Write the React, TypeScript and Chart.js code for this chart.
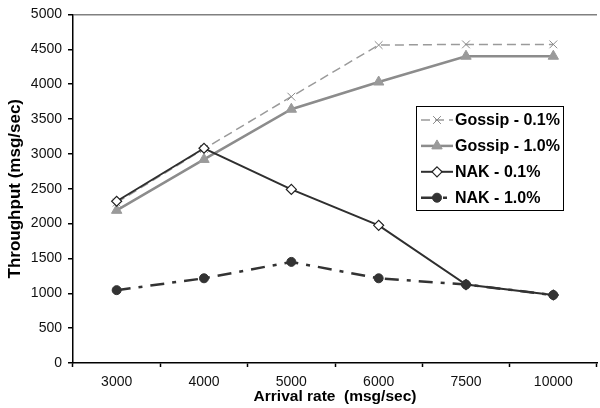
import React, { useEffect, useRef } from 'react';
import { Chart, registerables } from 'chart.js';

Chart.register(...registerables);

// ---- Data ----
const categories = ['3000', '4000', '5000', '6000', '7500', '10000'];
const seriesLabels = ['Gossip - 0.1%', 'Gossip - 1.0%', 'NAK - 0.1%', 'NAK - 1.0%'];
const gossip01 = [2300, 3070, 3820, 4560, 4570, 4570];
const gossip10 = [2190, 2920, 3640, 4030, 4400, 4400];
const nak01 = [2320, 3080, 2490, 1975, 1125, 975];
const nak10 = [1045, 1215, 1450, 1215, 1125, 975];
const yMin = 0;
const yMax = 5000;
const yStep = 500;
const xTitle = 'Arrival rate  (msg/sec)';
const yTitle = 'Throughput (msg/sec)';

const FONT = "Arial, 'Liberation Sans', Helvetica, sans-serif";

function drawMarker(ctx: CanvasRenderingContext2D, ds: any, x: number, y: number) {
  const r = ds.pointRadius;
  ctx.save();
  ctx.setLineDash([]);
  ctx.lineWidth = ds.pointBorderWidth;
  ctx.strokeStyle = ds.pointBorderColor;
  ctx.fillStyle = ds.pointBackgroundColor;
  ctx.beginPath();
  if (ds.pointStyle === 'crossRot') {
    const d = r * Math.SQRT1_2;
    ctx.moveTo(x - d, y - d); ctx.lineTo(x + d, y + d);
    ctx.moveTo(x + d, y - d); ctx.lineTo(x - d, y + d);
    ctx.stroke();
  } else if (ds.pointStyle === 'triangle') {
    for (let k = 0; k < 3; k++) {
      const a = (k * 2 * Math.PI) / 3;
      const px = x + Math.sin(a) * r;
      const py = y - Math.cos(a) * r;
      if (k === 0) ctx.moveTo(px, py); else ctx.lineTo(px, py);
    }
    ctx.closePath(); ctx.fill(); ctx.stroke();
  } else if (ds.pointStyle === 'rectRot') {
    ctx.moveTo(x, y - r); ctx.lineTo(x + r, y); ctx.lineTo(x, y + r); ctx.lineTo(x - r, y);
    ctx.closePath(); ctx.fill(); ctx.stroke();
  } else {
    ctx.arc(x, y, r, 0, Math.PI * 2);
    ctx.fill(); ctx.stroke();
  }
  ctx.restore();
}

const boxLegend = {
  id: 'boxLegend',
  afterDatasetsDraw(chart: any) {
    const ctx: CanvasRenderingContext2D = chart.ctx;
    const x0 = 416, y0 = 106, w = 147, h = 104;
    ctx.save();
    ctx.fillStyle = '#ffffff';
    ctx.fillRect(x0, y0, w, h);
    ctx.strokeStyle = '#000000';
    ctx.lineWidth = 1;
    ctx.strokeRect(x0 + 0.5, y0 + 0.5, w, h);
    chart.data.datasets.forEach((ds: any, i: number) => {
      const cy = 120 + i * 25.9;
      ctx.save();
      ctx.setLineDash(ds.borderDash || []);
      ctx.strokeStyle = ds.borderColor;
      ctx.lineWidth = ds.borderWidth;
      ctx.beginPath();
      ctx.moveTo(421, cy);
      ctx.lineTo(453, cy);
      ctx.stroke();
      ctx.restore();
      drawMarker(ctx, ds, 437, cy);
      ctx.fillStyle = '#000000';
      ctx.font = `bold 16px ${FONT}`;
      ctx.textAlign = 'left';
      ctx.textBaseline = 'middle';
      ctx.fillText(ds.label, 455, cy + 1);
    });
    ctx.restore();
  },
};

export default function App() {
  const ref = useRef<HTMLCanvasElement | null>(null);

  useEffect(() => {
    if (!ref.current) return;
    const chart = new Chart(ref.current, {
      type: 'line',
      data: {
        labels: categories,
        datasets: [
          {
            label: seriesLabels[0],
            data: gossip01,
            borderColor: '#9a9a9a',
            borderWidth: 1.5,
            borderDash: [9, 5],
            pointStyle: 'crossRot',
            pointRadius: 5.5,
            pointBorderWidth: 1,
            pointBorderColor: '#8a8a8a',
            pointBackgroundColor: '#8a8a8a',
            order: 3,
          },
          {
            label: seriesLabels[1],
            data: gossip10,
            borderColor: '#8c8c8c',
            borderWidth: 2.5,
            pointStyle: 'triangle',
            pointRadius: 6,
            pointBorderWidth: 1,
            pointBorderColor: '#9a9a9a',
            pointBackgroundColor: '#9a9a9a',
            order: 2,
          },
          {
            label: seriesLabels[2],
            data: nak01,
            borderColor: '#2f2f2f',
            borderWidth: 2,
            pointStyle: 'rectRot',
            pointRadius: 5,
            pointBorderWidth: 1.2,
            pointBorderColor: '#222222',
            pointBackgroundColor: '#ffffff',
            order: 1,
          },
          {
            label: seriesLabels[3],
            data: nak10,
            borderColor: '#333333',
            borderWidth: 2.5,
            borderDash: [14, 8, 4, 8],
            pointStyle: 'circle',
            pointRadius: 4.5,
            pointBorderWidth: 1,
            pointBorderColor: '#333333',
            pointBackgroundColor: '#333333',
            order: 0,
          },
        ] as any,
      },
      options: {
        animation: false,
        responsive: false,
        devicePixelRatio: 1,
        layout: { padding: { left: 0, right: 1, top: 13, bottom: 0 } },
        elements: { line: { tension: 0 } },
        plugins: {
          legend: { display: false },
          tooltip: { enabled: false },
        },
        scales: {
          x: {
            type: 'category',
            offset: true,
            grid: {
              offset: true,
              drawOnChartArea: false,
              drawTicks: true,
              tickLength: 4,
              tickColor: '#000000',
              tickWidth: 1.5,
            },
            border: { display: true, color: '#000000', width: 1.5 },
            ticks: {
              color: '#111111',
              font: { family: FONT, size: 14 },
              padding: 7,
              maxRotation: 0,
              autoSkip: false,
            },
            title: {
              display: true,
              text: xTitle,
              color: '#000000',
              font: { family: FONT, size: 15.5, weight: 'bold' },
              padding: { top: 0, bottom: 2 },
            },
            afterFit: (s: any) => { s.height = 45; },
          },
          y: {
            min: yMin,
            max: yMax,
            grid: {
              drawTicks: true,
              tickLength: 5,
              tickColor: '#000000',
              tickWidth: 1.5,
              color: (c: any) => (c.tick && c.tick.value === yMax ? '#808080' : 'rgba(0,0,0,0)'),
              lineWidth: 1.5,
            },
            border: { display: true, color: '#000000', width: 1.5 },
            ticks: {
              stepSize: yStep,
              color: '#111111',
              font: { family: FONT, size: 14 },
              padding: 6,
              callback: (v: any) => String(v),
            },
            title: {
              display: true,
              text: yTitle,
              color: '#000000',
              font: { family: FONT, size: 17, weight: 'bold' },
              padding: { top: 5, bottom: 0 },
            },
            afterFit: (s: any) => { s.width = 73; },
          },
        },
      } as any,
      plugins: [boxLegend],
    });
    return () => chart.destroy();
  }, []);

  return (
    <div style={{ position: 'fixed', left: 0, top: 0, width: 600, height: 408, overflow: 'hidden', background: '#fff' }}>
      <canvas ref={ref} width={604} height={408} style={{ width: 604, height: 408, display: 'block' }} />
    </div>
  );
}
